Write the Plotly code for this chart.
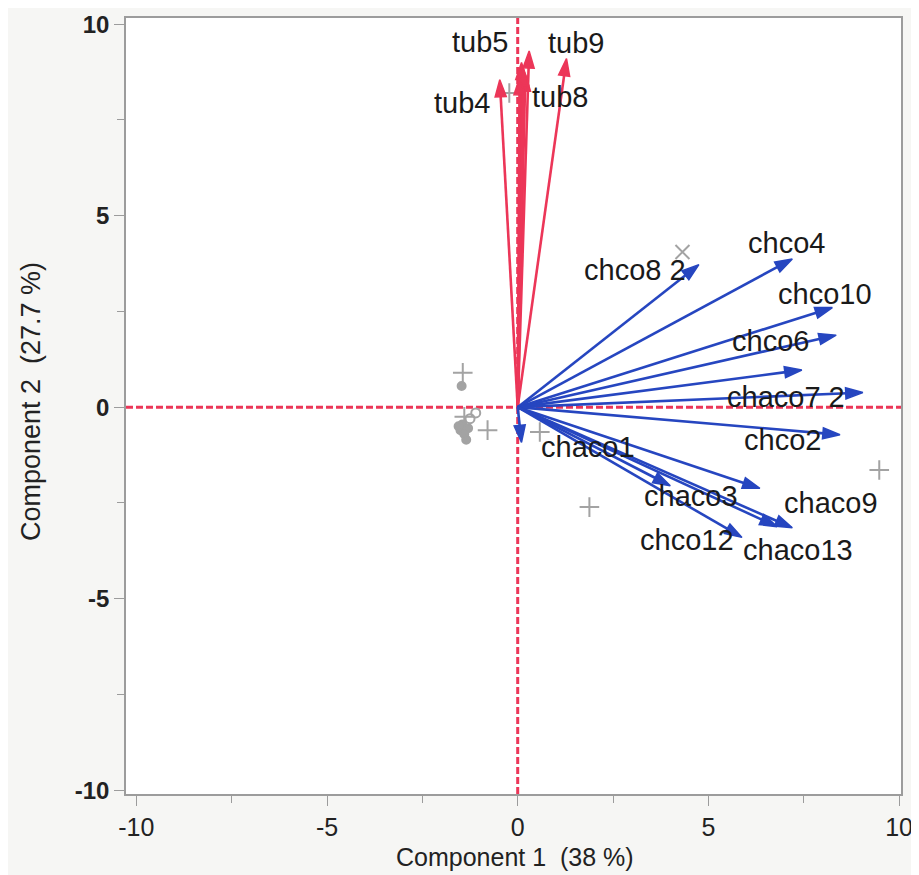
import plotly.graph_objects as go

# ---- data ----
tub_names = ["tub4", "tub5", "tub8", "tub9", "tub1", "tub2", "tub3"]
tub_x = [-0.47, 0.10, 0.20, 1.28, 0.30, 0.15, 0.05]
tub_y = [8.55, 9.00, 8.70, 9.10, 9.30, 8.85, 8.60]
tub_labels = ["tub4", "tub5", "tub8", "tub9", "", "", ""]

ch_names = ["chco8 2", "chco4", "chco10", "chco6", "chco7", "chaco7 2", "chco2",
            "chaco9", "chaco3", "chaco13", "chaco11", "chco12", "chaco1"]
ch_x = [4.75, 7.20, 8.25, 8.35, 7.45, 9.05, 8.45, 6.35, 4.00, 7.20, 6.80, 5.88, 0.10]
ch_y = [3.72, 3.87, 2.60, 1.88, 0.97, 0.38, -0.72, -2.12, -2.05, -3.15, -3.12, -3.40, -0.92]
ch_labels = ["chco8 2", "chco4", "chco10", "chco6", "", "chaco7 2", "chco2",
             "chaco9", "chaco3", "chaco13", "", "chco12", "chaco1"]

obs_x = [-1.44, -1.47, -1.45, -1.50, -1.40, -1.30, -1.35, -1.55, -1.25, -1.10, -1.40,
         -0.79, 0.58, 1.88, 9.48, 4.32, -0.22]
obs_y = [0.90, 0.55, -0.45, -0.60, -0.70, -0.55, -0.85, -0.50, -0.30, -0.15, -0.25,
         -0.60, -0.65, -2.61, -1.64, 4.05, 8.20]
obs_sym = ["cross-thin", "circle", "circle", "circle", "circle", "circle", "circle",
           "circle", "circle-open", "circle-open", "cross-thin",
           "cross-thin", "cross-thin", "cross-thin", "cross-thin", "x-thin", "cross-thin"]

tick_vals = [-10, -5, 0, 5, 10]
tick_text = ["-10", "-5", "0", "5", "10"]

x_title = "Component 1  (38 %)"
y_title = "Component 2  (27.7 %)"

# ---- label offsets (pixels) ----
label_shift = {
    "tub4": (-38, -23), "tub5": (-42, 20), "tub8": (35, -23), "tub9": (9, 16),
    "chco8 2": (-64, -5), "chco4": (-6, 16), "chco10": (-7, 14), "chco6": (-66, -6),
    "chaco7 2": (-77, -4), "chco2": (-57, -5), "chaco9": (71, -15), "chaco3": (21, -10),
    "chaco13": (6, -22), "chco12": (-55, -3), "chaco1": (66, -5),
}

RED = "#ec3658"
BLUE = "#2646c0"
GRAY = "#a3a3a3"
FONT = "Liberation Sans, Arial"

fig = go.Figure()

# observations
for xs, ys, s in zip(obs_x, obs_y, obs_sym):
    filled = s == "circle"
    fig.add_trace(go.Scatter(
        x=[xs], y=[ys], mode="markers",
        marker=dict(symbol=s, size=8 if filled else (9 if "open" in s else 14),
                    color=GRAY, line=dict(color=GRAY, width=2)),
        hoverinfo="skip", showlegend=False))

# reference lines
fig.add_shape(type="line", xref="x", yref="paper", x0=0, x1=0, y0=0, y1=1,
              line=dict(color=RED, width=3, dash="7px,3px"), layer="below")
fig.add_shape(type="line", xref="paper", yref="y", x0=0, x1=1, y0=0, y1=0,
              line=dict(color=RED, width=3, dash="7px,3px"), layer="below")


def add_arrows(xs, ys, labels, color):
    for x1, y1, lab in zip(xs, ys, labels):
        fig.add_trace(go.Scatter(
            x=[0, x1], y=[0, y1], mode="lines+markers",
            line=dict(color=color, width=2.6),
            marker=dict(symbol="arrow", size=[0, 18], angleref="previous",
                        color=color, opacity=1, line=dict(width=1.5, color=color)),
            opacity=1,
            hoverinfo="skip", showlegend=False))
        if lab:
            dx, dy = label_shift.get(lab, (0, 0))
            fig.add_annotation(x=x1, y=y1, text=lab, showarrow=False,
                               xshift=dx, yshift=dy, xanchor="center", yanchor="middle",
                               font=dict(family=FONT, size=29, color="#1a1a1a"))


add_arrows(tub_x, tub_y, tub_labels, RED)
add_arrows(ch_x, ch_y, ch_labels, BLUE)

axis_common = dict(
    showgrid=False, zeroline=False, showline=True, linecolor="#9c9c9c", linewidth=1.5,
    mirror=True, ticks="outside", ticklen=10, tickwidth=1.2, tickcolor="#9c9c9c",
    tickmode="array", tickvals=tick_vals, ticktext=tick_text,
    minor=dict(dtick=2.5, tick0=0, ticks="outside", ticklen=7, tickcolor="#9c9c9c",
               tickwidth=1.2),
)

fig.update_xaxes(range=[-10.27, 10.05], **axis_common,
                 tickfont=dict(family=FONT, size=25, color="#222"))
fig.update_yaxes(range=[-10.1, 10.16], **axis_common,
                 tickfont=dict(family=FONT, size=24, color="#222", weight="bold"))

fig.add_annotation(xref="paper", yref="paper", x=0.502, y=0, yshift=-63, text=x_title,
                   showarrow=False, xanchor="center", yanchor="middle",
                   font=dict(family=FONT, size=25, color="#222"))
fig.add_annotation(xref="paper", yref="paper", x=0, y=0.505, xshift=-95, text=y_title,
                   showarrow=False, xanchor="center", yanchor="middle", textangle=-90,
                   font=dict(family=FONT, size=27, color="#222"))

# page body has an 8px default margin: shift plot area to match the target pixels
fig.update_layout(
    width=919, height=875,
    margin=dict(l=118, r=26, t=10, b=89, autoexpand=False),
    paper_bgcolor="#f6f6f4", plot_bgcolor="#ffffff",
    showlegend=False, hovermode=False,
)

fig.write_html("out.html")
